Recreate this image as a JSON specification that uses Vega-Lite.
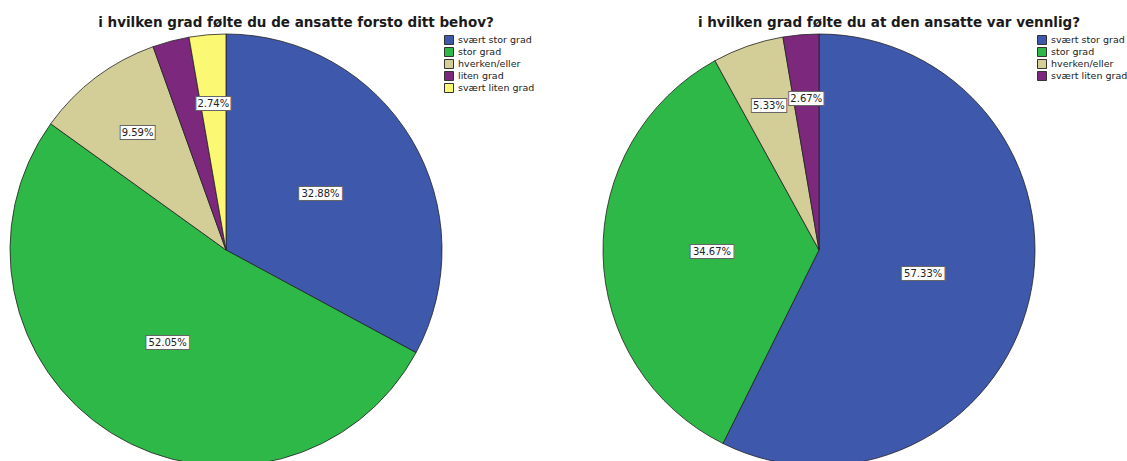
{
  "$schema": "https://vega.github.io/schema/vega-lite/v6.json",
  "background": "white",
  "padding": {"left": 8, "top": 15, "right": 0, "bottom": 0},
  "config": {
    "view": {"stroke": null},
    "font": "DejaVu Sans",
    "title": {"fontSize": 13.5, "fontWeight": "bold", "color": "#1a1a1a", "anchor": "middle", "dx": 70, "offset": 3},
    "legend": {"symbolType": "square", "symbolSize": 81, "symbolStrokeColor": "#333", "symbolStrokeWidth": 1, "labelFontSize": 9.5, "labelColor": "#222", "rowPadding": -2.75, "labelOffset": 4, "padding": 0}
  },
  "spacing": 66,
  "resolve": {"scale": {"color": "independent", "theta": "independent"}, "legend": {"color": "independent"}},
  "hconcat": [
    {
      "title": "i hvilken grad følte du de ansatte forsto ditt behov?",
      "width": 432,
      "height": 432,
      "data": {"values": [
        {"ord": 1, "cat": "svært stor grad", "pct": 32.88, "label": "32.88%"},
        {"ord": 2, "cat": "stor grad", "pct": 52.05, "label": "52.05%"},
        {"ord": 3, "cat": "hverken/eller", "pct": 9.59, "label": "9.59%"},
        {"ord": 4, "cat": "liten grad", "pct": 2.74, "label": ""},
        {"ord": 5, "cat": "svært liten grad", "pct": 2.74, "label": "2.74%"}
      ]},
      "encoding": {
        "theta": {"field": "pct", "type": "quantitative", "stack": true},
        "order": {"field": "ord", "type": "quantitative"}
      },
      "layer": [
        {
          "mark": {"type": "arc", "outerRadius": 216, "stroke": "#222", "strokeWidth": 0.8},
          "encoding": {
            "color": {"field": "cat", "type": "nominal",
              "scale": {"domain": ["svært stor grad", "stor grad", "hverken/eller", "liten grad", "svært liten grad"],
                        "range": ["#3E58AC", "#2EB848", "#D3CE97", "#7B287D", "#FBF873"]},
              "legend": {"title": null, "orient": "none", "legendX": 434, "legendY": 1}}
          }
        },
        {
          "mark": {"type": "text", "radius": 110, "fontSize": 11, "color": "#666", "stroke": "#666", "strokeWidth": 2, "align": "center", "baseline": "middle"},
          "encoding": {"text": {"condition": {"test": "datum.pct < 10", "value": ""}, "value": "█████"}}
        },
        {
          "mark": {"type": "text", "radius": 110, "fontSize": 11, "color": "white", "align": "center", "baseline": "middle"},
          "encoding": {"text": {"condition": {"test": "datum.pct < 10", "value": ""}, "value": "█████"}}
        },
        {
          "mark": {"type": "text", "radius": 110, "fontSize": 10, "color": "#222", "align": "center", "baseline": "middle"},
          "encoding": {"text": {"condition": {"test": "datum.pct < 10", "value": ""}, "field": "label"}}
        },
        {
          "mark": {"type": "text", "radius": 147, "fontSize": 11, "color": "#666", "stroke": "#666", "strokeWidth": 2, "align": "center", "baseline": "middle"},
          "encoding": {"text": {"condition": {"test": "datum.pct >= 10 || datum.label === ''", "value": ""}, "value": "████"}}
        },
        {
          "mark": {"type": "text", "radius": 147, "fontSize": 11, "color": "white", "align": "center", "baseline": "middle"},
          "encoding": {"text": {"condition": {"test": "datum.pct >= 10 || datum.label === ''", "value": ""}, "value": "████"}}
        },
        {
          "mark": {"type": "text", "radius": 147, "fontSize": 10, "color": "#222", "align": "center", "baseline": "middle"},
          "encoding": {"text": {"condition": {"test": "datum.pct >= 10", "value": ""}, "field": "label"}}
        }
      ]
    },
    {
      "title": "i hvilken grad følte du at den ansatte var vennlig?",
      "width": 432,
      "height": 432,
      "data": {"values": [
        {"ord": 1, "cat": "svært stor grad", "pct": 57.33, "label": "57.33%"},
        {"ord": 2, "cat": "stor grad", "pct": 34.67, "label": "34.67%"},
        {"ord": 3, "cat": "hverken/eller", "pct": 5.33, "label": "5.33%"},
        {"ord": 4, "cat": "svært liten grad", "pct": 2.67, "label": "2.67%"}
      ]},
      "encoding": {
        "theta": {"field": "pct", "type": "quantitative", "stack": true},
        "order": {"field": "ord", "type": "quantitative"}
      },
      "layer": [
        {
          "mark": {"type": "arc", "outerRadius": 216, "stroke": "#222", "strokeWidth": 0.8},
          "encoding": {
            "color": {"field": "cat", "type": "nominal",
              "scale": {"domain": ["svært stor grad", "stor grad", "hverken/eller", "svært liten grad"],
                        "range": ["#3E58AC", "#2EB848", "#D3CE97", "#7B287D"]},
              "legend": {"title": null, "orient": "none", "legendX": 434, "legendY": 1}}
          }
        },
        {
          "mark": {"type": "text", "radius": 107, "fontSize": 11, "color": "#666", "stroke": "#666", "strokeWidth": 2, "align": "center", "baseline": "middle"},
          "encoding": {"text": {"condition": {"test": "datum.pct < 10", "value": ""}, "value": "█████"}}
        },
        {
          "mark": {"type": "text", "radius": 107, "fontSize": 11, "color": "white", "align": "center", "baseline": "middle"},
          "encoding": {"text": {"condition": {"test": "datum.pct < 10", "value": ""}, "value": "█████"}}
        },
        {
          "mark": {"type": "text", "radius": 107, "fontSize": 10, "color": "#222", "align": "center", "baseline": "middle"},
          "encoding": {"text": {"condition": {"test": "datum.pct < 10", "value": ""}, "field": "label"}}
        },
        {
          "mark": {"type": "text", "radius": 152, "fontSize": 11, "color": "#666", "stroke": "#666", "strokeWidth": 2, "align": "center", "baseline": "middle"},
          "encoding": {"text": {"condition": {"test": "datum.pct >= 10", "value": ""}, "value": "████"}}
        },
        {
          "mark": {"type": "text", "radius": 152, "fontSize": 11, "color": "white", "align": "center", "baseline": "middle"},
          "encoding": {"text": {"condition": {"test": "datum.pct >= 10", "value": ""}, "value": "████"}}
        },
        {
          "mark": {"type": "text", "radius": 152, "fontSize": 10, "color": "#222", "align": "center", "baseline": "middle"},
          "encoding": {"text": {"condition": {"test": "datum.pct >= 10", "value": ""}, "field": "label"}}
        }
      ]
    }
  ]
}
